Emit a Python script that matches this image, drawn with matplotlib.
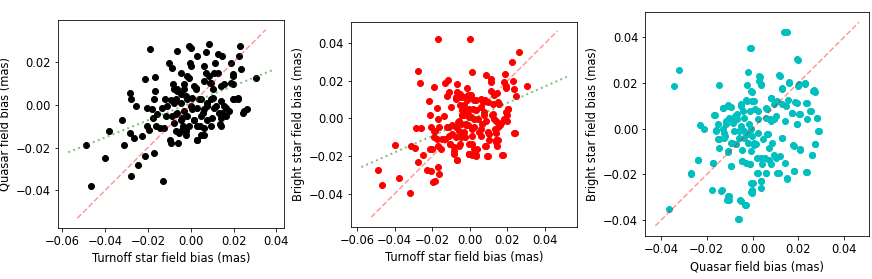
import numpy as np
import matplotlib
matplotlib.use("Agg")
import matplotlib.pyplot as plt
from matplotlib.ticker import MultipleLocator
plt.rcParams.update({'font.size': 11.5})

# field biases in micro-arcsec (converted to mas when plotted)
turnoff_q = [-48.8, -46.7, -40, -38.1, -32, -31.1, -28.4, -27.8, -28.4, -27.8, -26.6, -25.8, -24.7, -22.7, -21.6,
             -21.4, -20.3, -20.2, -19.5, -19.1, -18, -17.2, -17.2, -16.9, -16.7, -17.5, -16.4, -15.6, -14.4, -13.3,
             -13, -12.5, -12, -11.7, -10.9, -10.2, -9.7, -9.4, -9.1, -8.6, -8.1, -7.8, -7, -6.6, -6.3, -5.9, -5.5,
             -4.7, -4.4, -3.9, -3.4, -3.1, -2.3, -2, -1.6, -0.8, -0.5, 0, 0.3, 0.8, 1.3, 1.6, 2.3, 2.8, 3.1, 3.9,
             4.4, 4.7, 5.5, 6.3, 7, 7, 7.8, 8.6, 8.9, 9.4, 9.7, 10.2, 10.9, 11.3, 11.7, 12.5, 13.3, 13.8, 14.1,
             14.8, 15.6, 16.4, 18.8, 19.5, 19.5, 20.3, 22.2, 23.1, 23.4, 22.7, 24.2, 26.1, 30.5,
             -7.8, -6.3, -3.1, -0.8, 2.3, 6.3, 9.4, 8.6, 12.5, 15.6, 19.5, 18.8, 21.9, 19.5, 14.1, 16.4, 14.8, 18,
             14.1, 25, -7, -4.7, -1.6, 0.8, 4.7, 7.8, 10.2, 10.9, 6.3, 3.1, 0, -3.1, -6.3, -8.6, -7.8, -4.7, -1.6,
             1.6, 4.7, 7.8, 9.4, 6.3, 3.1, -0.8, -3.9, -7, -2.3, 6.3, 3.1, 14.1]
quasar_t = [-18.9, -37.8, -25, -12.3, -6.9, -18.8, 5.3, 2.8, -13.1, -33.4, -15.5, -0.6, -28, -14.7, -24.1,
            12.2, -1.4, -10, -11.6, 25.9, -2.2, 2.5, -22.5, 13, 6.4, -6.1, -10, -4.5, -10.8, -1.4,
            -35.8, -10.8, 2.5, -5.3, -0.6, 19.7, -16.3, -17.8, 2, 17.3, 9.5, 0.9, -4.5, 7.2, 25.2, -17.8, -13.1,
            15, 4.8, -6.1, -10, 7.2, 4.1, -12.3, 13.4, 27.5, 19.7, 18.1, 26.7, -2.2, 8.8, -6.9, 7.2, -16.3, 22.8, 2.5,
            -10, -13.9, -3.8, 18.1, 24.4, 15, -0.6, 28.3, 10.3, 2.5, -6.1, 7.2, 15, 19.7, -0.6, 23.9, -3.8, -9.2, 8.8,
            22.8, -0.6, -5.3, 19.7, 14.2, 9.5, 2.5, 2.8, 27.2, 16.6, 22.8, -3.8, -2.2, 12.3,
            7.2, 6.4, 9.5, 12.7, 8, 11.1, 10.3, 13.4, 15, 9.5, 13.4, 10.3, 3.3, 2.5, 1.7, -1.4, -3.8, -3,
            -6.1, -3, 2.5, 0.9, 2.5, 3.3, 2.5, 0.9, 3.3, -1.4, -2.2, -1.4, -0.6, -3, -3.8, -5.3, -8.4, -6.9, -5.3,
            -6.9, -5.3, -6.9, -10, -10.8, -10, -10, -11.6, -12.3, -13.9, -13.9, -16.3, -10]

turnoff_b = [-48.8, -46.5, -40, -37.8, -32, -31.1, -29.3, -27.7, -28.8, -27.7, -26.5, -25.8, -24.7, -22.7, -21.5,
             -21.3, -20.9, -20.4, -20.1, -19.7, -19, -19.2, -18.3, -18.3, -17.4, -16.9, -16.7, -16.9, -16.2, -17,
             -15.3, -13.9, -14.7, -13, -12.4, -11.5, -12.1, -11.2, -10.7, -9.8, -9.4, -8.5, -8.2, -7.6, -6.7, -6.7,
             -6.2, -5.9, -5.5, -5, -4.4, -4.1, -3.7, -3.2, -2.7, -2, -1.4, -0.9, -0.5, 0, 0.4, 0.9, 1.2, 0.9, 1.2,
             1.8, 2.1, 3, 3.4, 3.9, 4.8, 5.7, 6.2, 7.1, 7.5, 8, 8.3, 8.7, 9.2, 9.6, 10.1, 11, 11.5, 11.4, 11.9, 12.3,
             13.1, 13.3, 13.7, 14, 14.4, 14.6, 15.1, 15.8, 16.7, 17.2, 18.1, 18.7, 19, 19.4, 19.9, 19.9, 20.4, 22.6,
             22.9, 23.4, 24.3, 24, 25.9, 30.6,
             -4.8, -1.2, 2.3, 5.9, 9.4, 12.9, 15.6, -3.9, -0.4, 3.2, 7.6, 12.1, -3, 0.5, 4.1, 8.5, 13.9, 18.3, -4.8,
             -1.2, 2.3, 5.9, 14.8, -3, 1.4, -4.8, 5.9, 10.3, 13.9, 8.5, 2.3, -0.4, 3.2, 9.4, 17.4, 23.6, 20.1, 19.2,
             14.7,
             -11.2, -9.4, -7.6, -5.9, -4.1, -2.3, -0.5, -7.6, -4.1, -13, -10.3, -5.9, -8.5, -6.7, -0.5, -0.5, -5,
             -3.2, -1.4, 0.4, -3.2, -7.6, -6.7, -11.2, -16.5, -17.4, -19.2, -21]
bright_t = [-27.2, -35.4, -13.9, -31.5, -39.7, -14.9, -15.8, 25.4, -5.2, -23.3, 19, -5.2, -19.6, -27.4, 9.3,
            1.6, -4.3, -28.1, -16.2, -34, 16.5, -10, -6.4, -33.1, 5.7, -14.8, 42, -26, -29.5, -0.2,
            -16.2, 1.2, -10.9, 18.9, 11.7, 20.3, -4.6, -9.1, -13.5, 6, -3.7, -15.3, -18.9, 10.5, 18.1, -22.1,
            -2, -6.4, -13.5, 13.2, 4.3, 1.6, -8.2, 6.9, -10, -3.7, 16.2, 2.5, -18.9, 42, 11.4, -5.5, 24.7, -19.2, -13.5,
            5.2, -0.2, 9.6, -19.2, -16.2, -7.3, 6, -2.8, 8.7, 1.6, -14.9, 10, 23, -19.9, -7.3, -11.7, 21.2, 19.4, 14.6, 1.6, 7.8,
            -0.5, -5.5, -7.8, -11.7, -14.6, 13.5, 8.7, -3.7, -2.5, -19.2, 19.4, 23.5, 17.1, 16.4, 1.6, -1.1, 5.2, 29.9,
            19.8, 15.8, 11.9, -7.7, 35.4, 17.3,
            11.4, 12.3, 9.6, 10.5, 8.7, 12.3, 7.8, 6, 5.2, 4.3, 3.4, 2.5, 1.6, 0.7, -0.2, -1.1, -1.1, -0.2, -2.8,
            -3.7, -4.6, -5.5, -4.6, -7.3, -9.1, -10, -9.1, -8.2, -12.6, -14.4, -16.2, -18.9, -19.8, -19.8, -19.4, -7.7, 5.2, 3.4,
            -11.6,
            -4.6, -8.2, -4.6, -1.1, 1.6, -2.8, 0.7, -10, -9.1, -10.9, -13.5, -14.4, -17.1, -22.1, -18.9, -13.5, 6.9,
            5.2, 9.6, 12.3, 11.4, 11.4, 14.1, 14.1, -4.6, -10.9, -6.4, -16.2]

quasar_b = [-36.7, -34.2, -32.2, -26.8, -23.9, -22.9, -21.3, -17.7, -17.4, -16.3, -16, -15.2, -14.5, -14.5, -13.4,
            -13.1, -12.7, -12.1, -11.7, -11.2, -10.9, -10.6, -10.2, -9.5, -9.2, -8.8, -8.5, -8.1, -7.6, -7.3, -6.6,
            -6.2, -5.9, -5.5, -5.2, -4.9, -4.7, -4.5, -4, -3.7, -3.5, -3, -2.7, -2.3, -2, -1.9, -1.6, -1.2, -0.9,
            -0.4, -0.4, -0.1, 0.1, 0.3, 0.6, 1, 2, 2.3, 2.7, 3.2, 3.5, 3.7, 3.5, 4.2, 4.6, 5.3, 5.9, 6.3, 6.8, 7.1,
            7.8, 8.1, 8.2, 9.2, 9.6, 10.2, 10.9, 11.4, 12.1, 12.8, 13.1, 13.1, 13.8, 15, 14.2, 14.7, 15.3, 15.7, 16.1,
            17.1, 17.8, 18.1, 18.8, 19.3, 19.7, 20.3, 20.4, 20.7, 22.9, 23.6, 23.7, 23.6, 25.5, 26.2, 26.8, 27.5,
            27.5, 28.3, 29.2,
            -0.7, 2.9, 3.6, -0.7, 0.7, 2.2, 5.8, 9.4, 7.9, 10.8, 12.9, 12.2, 15.8, 19.4, 20.1, 23, 19.4, 23.7, 17.3,
            20.9, 14.4, 19.4, 5.8, 7.9, -0.7, 2.2, 6.5, 8.6, 1.4, -0.7, 3.6, 7.2, 10.1, 12.9, 18, 20.9, 2.2, 5.8,
            11.5, 15.1, 18, 23.7, -0.7, 3.6, 25.9, 27.3, 28.8, 28.1, 25.2, 26.6,
            -16.7, -15.3, -16, -14.5, -13.1, -10.9, -11.7, -12.4, -12.4, -10.2, -8.1, -9.5, -10.9, -7.3, -6.6, -5.2,
            -3.7, -2.3, -0.1, -0.9, -5.9, -3.7, -1.6, 0.6, -4.5, -0.9, 2, -9.2, -17.4, -23.9, -26.8, -13.8, -10.9,
            -10.2, -5.2, -3, -5.9, -0.1, -0.6]
bright_q = [-35.2, 18.7, 25.6, -19.4, -13.6, 1.6, -0.3, -26.8, -15.1, 6, -0.7, -4.4, 19.2, -8.3, -27,
            9.2, 0, -3.2, 3.4, -31.3, 10.4, -10.1, -29.5, 9.5, -16.1, -6.1, 2.6, -1, 5.6, -6.9, 4.4,
            -39.3, -3.9, -31.4, 10.7, 1.2, -14.2, -9.1, 7.7, -1, -33.5, 12.4, -14.9, 19.2, 25, -6.1, 1.9, 35.5, -15.6,
            16.2, -28.1, -3.2, -23.7, 12.1, -7.2, 8.5, -19.3, 4.1, 20.9, 22.7, -25.9, 19.2, -23, -15.6, -4.7, -12.7,
            -19.3, 8.5, -2.2, -8.3, 4.4, -15.6, 13.3, 10.7, -11.7, 5.6, -19.3, 23.5, -12, 17.5, -3.9, 11, 42.1, 42.1,
            -14.9, 9.9, -21.8, 12.4, 20.6, 7, -7.2, -18.6, 11.7, 2.2, 30.1, 19.4, 6.3, -9.1, 19.7, 11.4, 4.1, -18.9,
            7.7, -11.3, 16.8, 16.2, -6.6, 4.5, -1,
            35.5, 23.1, 19.4, 16.5, 12.1, 7.7, 4.8, 4.1, 13.6, 12.1, 17.7, 23.1, 20.2, 30.4, 18.7, 20.2, 11.4, 11.4,
            7, 6.3, 3.4, 1.9, 9.2, 3.4, -0.3, -1.8, -2.5, -6.1, -6.9, -9.8, -12.7, -13.5, -12.7, -3.9, -7.6, -8.8,
            -19.3, -19.3, -19.3, -21.5, -18.6, -18.9, -23.7, -23, -11.3, -6.9, -1, 4.5, 7.7, 16.5,
            6, 1.9, -1, -4.7, 9.2, 9.9, 1.9, -1.8, -3.9, 4.8, 3.4, -6.1, -9.8, -6.9, 6.3, 9.9, 4.8, 12.1, 12.1, 7.7,
            -1, -3.9, -2.5, -6.1, -14.2, -15.6, -12.7, -16.1, -14.9, -13.5, -19.6, -27.3, -29.5, -31.3, -31.7,
            -33.5, -39.3, -26.6, -27.8]

# one-to-one line extents and linear fits (mas)
one_to_one_1 = [-0.053, 0.035]
one_to_one_2 = [-0.0525, 0.0466]
one_to_one_3 = [-0.0425, 0.0466]
fit_range_1 = [-0.0572, 0.0388]
fit_range_2 = [-0.0577, 0.0516]
fit_coef_1 = (0.402, 0.0008)
fit_coef_2 = (0.439, -0.0005)


def draw_panel(ax, x, y, color, xlabel, ylabel, one_to_one, fit_range=None, fit_coef=None):
    x = np.array(x) / 1000.0
    y = np.array(y) / 1000.0
    ax.scatter(x, y, c=color, s=36)
    ax.plot(one_to_one, one_to_one, 'r--', alpha=0.4)
    if fit_range is not None:
        fx = np.array(fit_range)
        ax.plot(fx, fit_coef[0] * fx + fit_coef[1], 'g:', alpha=0.5, linewidth=2)
    ax.set_aspect('equal')
    ax.xaxis.set_major_locator(MultipleLocator(0.02))
    ax.yaxis.set_major_locator(MultipleLocator(0.02))
    ax.set_xlabel(xlabel)
    ax.set_ylabel(ylabel)


fig, axes = plt.subplots(1, 3, figsize=(872 / 72, 279 / 72), dpi=72)
fig.subplots_adjust(left=0.0665, right=0.998, bottom=0.154, top=0.957, wspace=0.296)

draw_panel(axes[0], turnoff_q, quasar_t, 'k', "Turnoff star field bias (mas)", "Quasar field bias (mas)",
           one_to_one_1, fit_range_1, fit_coef_1)
draw_panel(axes[1], turnoff_b, bright_t, 'r', "Turnoff star field bias (mas)", "Bright star field bias (mas)",
           one_to_one_2, fit_range_2, fit_coef_2)
draw_panel(axes[2], quasar_b, bright_q, 'c', "Quasar field bias (mas)", "Bright star field bias (mas)",
           one_to_one_3)

plt.savefig("out.png", dpi=72)
plt.close()
